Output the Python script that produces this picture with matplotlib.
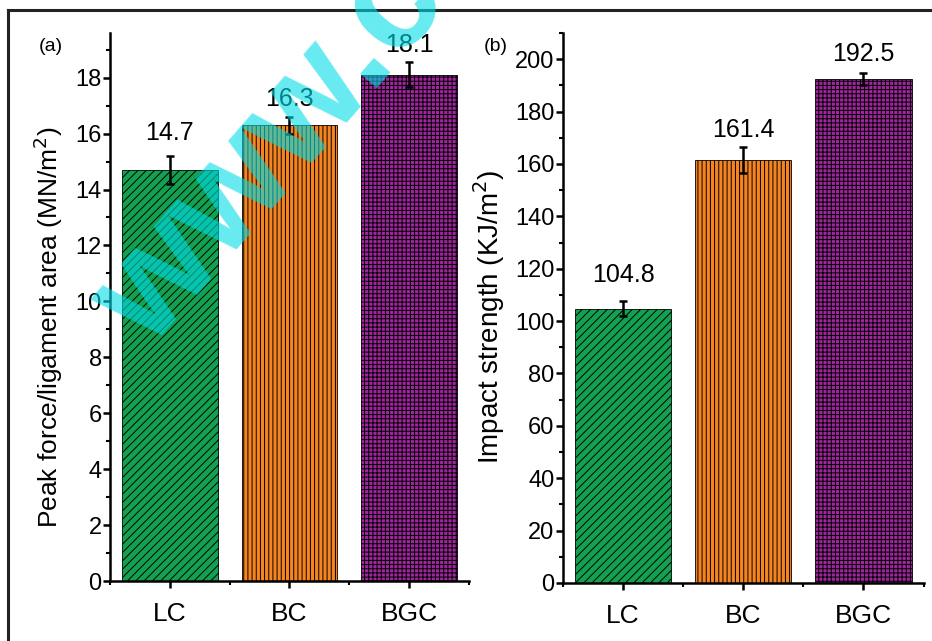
import matplotlib
matplotlib.use('Agg')
import matplotlib.pyplot as plt
from matplotlib.ticker import MultipleLocator, FixedLocator
from matplotlib.lines import Line2D

plt.rcParams['font.family'] = ['Liberation Sans', 'DejaVu Sans']
plt.rcParams['hatch.linewidth'] = 0.7
plt.rcParams['hatch.color'] = 'black'

# data
samples = ['LC', 'BC', 'BGC']
peak_force = [14.7, 16.3, 18.1]        # MN/m^2
peak_force_err = [0.5, 0.3, 0.45]
impact = [104.8, 161.4, 192.5]         # KJ/m^2
impact_err = [3.0, 5.0, 2.3]

# styling
colors = ['#12a150', '#f7851f', '#a1259f']
hatches = ['////', '||||', '++++']
fs_tick = 17
fs_xtick = 19
fs_val = 18


def bar_panel(ax, values, errs, ylim, major, minor, ylabel, label_fs, tag, tag_xy, label_xy, pads):
    x = range(len(samples))
    bars = ax.bar(x, values, width=0.8, color=colors, edgecolor='black', linewidth=0.6, zorder=2)
    for b, h in zip(bars, hatches):
        b.set_hatch(h)
    ax.errorbar(x, values, yerr=errs, fmt='none', ecolor='black', elinewidth=1.8,
                capsize=3, capthick=1.8, zorder=3)
    for i, (v, e) in enumerate(zip(values, errs)):
        ax.annotate('%g' % v, (i, v + e), xytext=(0, pads[i]), textcoords='offset points',
                    ha='center', va='bottom', fontsize=fs_val)

    ax.set_xlim(-0.5, 2.5)
    ax.set_ylim(*ylim)
    ax.set_xticks(list(x))
    ax.set_xticklabels(samples, fontsize=fs_xtick)
    ax.xaxis.set_minor_locator(FixedLocator([-0.5, 0.5, 1.5, 2.5]))
    ax.yaxis.set_major_locator(MultipleLocator(major))
    ax.yaxis.set_minor_locator(MultipleLocator(minor))

    for s in ['top', 'right']:
        ax.spines[s].set_visible(False)
    for s in ['left', 'bottom']:
        ax.spines[s].set_linewidth(1.8)
    ax.tick_params(which='major', direction='out', length=5, width=1.8)
    ax.tick_params(axis='y', labelsize=fs_tick, pad=1)
    ax.tick_params(axis='x', pad=10)
    ax.tick_params(which='minor', direction='out', length=3, width=1.5)

    ax.set_ylabel(ylabel, fontsize=label_fs)
    ax.yaxis.set_label_coords(*label_xy)
    ax.text(tag_xy[0], tag_xy[1], tag, transform=ax.transAxes, fontsize=14,
            ha='center', va='center')


fig = plt.figure(figsize=(9.32, 6.41), dpi=100)
ax1 = fig.add_axes([0.118, 0.0936, 0.385, 0.855])
ax2 = fig.add_axes([0.604, 0.0905, 0.387, 0.858])

bar_panel(ax1, peak_force, peak_force_err, (0, 19.6), 2, 1,
          'Peak force/ligament area (MN/m$^2$)', 19, '(a)', (-0.165, 0.975),
          (-0.125, 0.463), [8, 4, 4])
bar_panel(ax2, impact, impact_err, (0, 210), 20, 10,
          'Impact strength (KJ/m$^2$)', 20, '(b)', (-0.186, 0.975),
          (-0.155, 0.484), [10, 4, 5])

# outer frame of the figure
fig.add_artist(Line2D([8 / 932, 8 / 932], [0, 1 - 10 / 641], color='#222222', lw=2.2))
fig.add_artist(Line2D([8 / 932, 1], [1 - 10 / 641, 1 - 10 / 641], color='#222222', lw=2.2))

# site watermark
fig.text(150 / 932, 1 - 350 / 641, 'www.c', rotation=49, rotation_mode='anchor',
         ha='left', va='baseline', fontsize=106, fontweight='bold',
         color='#00dde6', alpha=0.6, zorder=10)

fig.savefig('out.png', dpi=100)
